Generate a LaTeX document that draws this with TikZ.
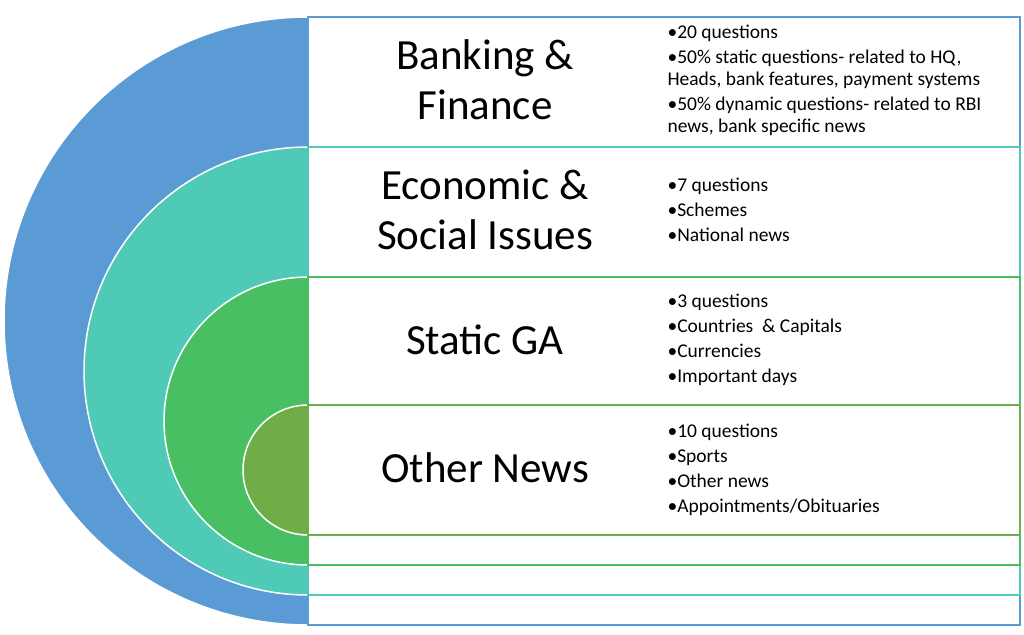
\documentclass[tikz,border=0pt]{standalone}
\usepackage{fontspec}
\setmainfont{Carlito}
\definecolor{cblue}{HTML}{5B9BD5}
\definecolor{cteal}{HTML}{4FCAB6}
\definecolor{cgreen}{HTML}{48BF63}
\definecolor{colive}{HTML}{70AD47}
\begin{document}
\begin{tikzpicture}[x=1pt,y=-1pt,
  title/.style={align=center,font=\fontsize{43}{50}\selectfont},
  bul/.style={align=left,anchor=west,font=\fontsize{19.5}{22}\selectfont},
  arc/.style={draw=white,line width=1.5pt},
  box/.style={fill=white,line width=1.2pt}]
\useasboundingbox (0,0) rectangle (1024,634);
% semicircles
\fill[cblue,arc] (308,17) arc[start angle=270,end angle=90,radius=304] -- cycle;
\fill[cteal,arc] (308,147) arc[start angle=270,end angle=90,radius=224] -- cycle;
\fill[cgreen,arc] (308,277) arc[start angle=270,end angle=90,radius=144] -- cycle;
\fill[colive,arc] (308,405) arc[start angle=270,end angle=90,radius=65] -- cycle;
% boxes
\draw[box,draw=cblue] (308,17) rectangle (1020,625);
\draw[box,draw=cteal] (308,147) rectangle (1020,595);
\draw[box,draw=cgreen] (308,277) rectangle (1020,565);
\draw[box,draw=colive!80!cgreen] (308,405) rectangle (1020,535);
\draw[cblue,line width=1.2pt] (308,17) -- (1020,17);
\draw[cteal,line width=1.2pt] (308,147) -- (1020,147);
% titles
\node[title] (t1) at (485,80) {Banking \&\\Finance};
\node[title] (t2) at (485,210) {Economic \&\\Social Issues};
\node[title] (t3) at (485,340) {Static GA};
\node[title] (t4) at (485,468) {Other News};
% bullets
\node[bul] (b1) at (664,80) {•20 questions\\[3pt]•50\% static questions- related to HQ,\\Heads, bank features, payment systems\\[3pt]•50\% dynamic questions- related to RBI\\news, bank specific news};
\node[bul] (b2) at (664,210) {•7 questions\\[3pt]•Schemes\\[3pt]•National news};
\node[bul] (b3) at (664,340) {•3 questions\\[3pt]•Countries \ \&\ Capitals\\[3pt]•Currencies\\[3pt]•Important days};
\node[bul] (b4) at (664,470) {•10 questions\\[3pt]•Sports\\[3pt]•Other news\\[3pt]•Appointments/Obituaries};
\end{tikzpicture}
\end{document}
